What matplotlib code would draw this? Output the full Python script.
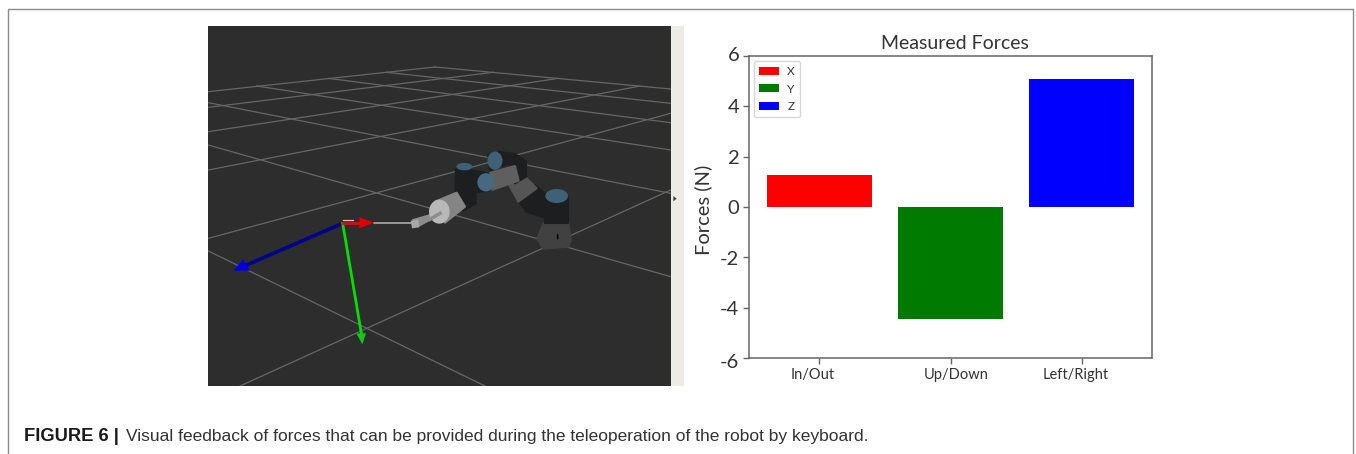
import matplotlib
matplotlib.use("Agg")
import matplotlib.pyplot as plt
from matplotlib.patches import Rectangle, Polygon, Ellipse
from matplotlib.transforms import ScaledTranslation

W, H = 1356, 454
categories = ["In/Out", "Up/Down", "Left/Right"]
forces = [1.28, -4.45, 5.08]
bar_colors = ["#ff0000", "#007a00", "#0000ff"]
legend_labels = ["X", "Y", "Z"]
yticks = [-6, -4, -2, 0, 2, 4, 6]
xlabel_shift_px = [-7, 5, -6]
ylabel_shift_px = [-3, 0, -1, 0, 0, 0, 2]

# Scene sketch, in crop coordinates of the reference
grid_a = [
    [(25, 230), (705, 156)],
    [(25, 277), (880, 172)],
    [(25, 350), (1075, 190)],
    [(25, 465), (1320, 213)],
    [(25, 670), (1412, 295)],
    [(120, 1113), (1412, 525)],
]
grid_b = [
    [(705, 156), (1412, 222)],
    [(560, 172), (1412, 265)],
    [(385, 190), (1412, 323)],
    [(170, 213), (1412, 405)],
    [(25, 263), (1412, 535)],
    [(25, 390), (1412, 785)],
    [(25, 708), (855, 1113)],
]
DARK, BLUE, BLUE2 = "#1d1e20", "#3f6177", "#47687f"
robot_polys = [
    ([(352, 295), (372, 248), (445, 248), (452, 300), (445, 320), (370, 326)], "#414141"),
    ([(375, 170), (445, 170), (445, 250), (375, 250)], DARK),
    ([(290, 175), (345, 135), (385, 170), (380, 235), (320, 215)], DARK),
    ([(262, 125), (310, 105), (350, 145), (295, 185)], "#555555"),
    ([(205, 45), (240, 36), (285, 42), (318, 65), (318, 110), (285, 130), (270, 70), (210, 90)], DARK),
    ([(205, 100), (285, 78), (296, 122), (215, 150)], "#5f5f5f"),
    ([(108, 85), (150, 90), (205, 100), (212, 150), (165, 158), (168, 190), (130, 212), (106, 170)], DARK),
    ([(45, 185), (110, 158), (135, 200), (75, 248)], "#858585"),
]
robot_ellipses = [
    ((410, 168, 68, 42), BLUE),
    ((225, 62, 45, 55), BLUE),
    ((198, 127, 52, 55), BLUE2),
    ((133, 80, 48, 22), BLUE),
    ((58, 215, 62, 72), "#b8b8b8"),
    ((413, 290, 5, 18), "#050505"),
]

plt.rcParams["font.family"] = ["Lato", "DejaVu Sans"]
fig = plt.figure(figsize=(W / 100, H / 100), dpi=100, facecolor="white")

def axes_px(l, t, r, b):
    return fig.add_axes([l / W, 1 - b / H, (r - l) / W, (b - t) / H])

bg = axes_px(0, 0, W, H)
bg.set_xlim(0, W)
bg.set_ylim(H, 0)
bg.axis("off")

def z2(p):
    return (200 + p[0] / 3, 15 + p[1] / 3)

def z5(p):
    return (420 + p[0] / 3, 140 + p[1] / 3)

def zm(p):
    return (200 + p[0] / 3, 100 + p[1] / 3)

# outer frame
bg.plot([8, 8, 1353, 1353], [454, 9, 9, 454], color="#8a8a8a", lw=1.0, solid_capstyle="butt")

# scene
bg.add_patch(Rectangle((670.5, 26), 13.5, 360, fc="#ecebe6", ec="none"))
scene = Rectangle((208, 26), 462.5, 360, fc="#2d2d2d", ec="none")
bg.add_patch(scene)
for seg in grid_a + grid_b:
    (x0, y0), (x1, y1) = z2(seg[0]), z2(seg[1])
    ln, = bg.plot([x0, x1], [y0, y1], color="#666666", lw=0.9, zorder=2)
    ln.set_clip_path(scene)

# gripper and line
bg.plot(*zip(zm((522, 368)), zm((632, 368))), color="#b5b5b5", lw=1.1, zorder=3)
bg.add_patch(Polygon([zm(p) for p in [(635, 358), (715, 335), (722, 345), (658, 380)]],
                     fc="#8c8c8c", ec="none", zorder=3))
bg.add_patch(Polygon([zm(p) for p in [(632, 362), (655, 358), (658, 382), (636, 385)]],
                     fc="#a8a8a8", ec="none", zorder=3))
for pts, c in robot_polys:
    bg.add_patch(Polygon([z5(p) for p in pts], fc=c, ec=c, lw=1.5, joinstyle="round", zorder=4))
for (cx, cy, w, h), c in robot_ellipses:
    x, y = z5((cx, cy))
    bg.add_patch(Ellipse((x, y), w / 3, h / 3, fc=c, ec="none", zorder=5))
bg.plot(*zip(zm((690, 358)), zm((720, 340))), color="#8c8c8c", lw=2.5, zorder=6)

# axes arrows
bg.plot(*zip(zm((428, 370)), zm((140, 495))), color="#00008c", lw=2.6, zorder=7)
bg.add_patch(Polygon([zm(p) for p in [(100, 512), (130, 478), (150, 512)]], fc="#0000dc", ec="none", zorder=8))
bg.plot(*zip(zm((428, 370)), zm((484, 700))), color="#00e000", lw=2.0, zorder=7)
bg.add_patch(Polygon([zm(p) for p in [(487, 733), (469, 700), (498, 700)]], fc="#16c816", ec="none", zorder=8))
bg.plot(*zip(zm((430, 368)), zm((480, 368))), color="#d01010", lw=2.0, zorder=7)
bg.add_patch(Polygon([zm(p) for p in [(522, 368), (478, 352), (478, 385)]], fc="#e00000", ec="none", zorder=8))
bg.plot(*zip(zm((430, 361)), zm((458, 361))), color="#c8c8c8", lw=0.9, zorder=9)
# side-panel grip
bg.add_patch(Polygon([zm(p) for p in [(1420, 288), (1430, 296), (1420, 304)]], fc="#444444", ec="none", zorder=9))

# caption
bg.text(24, 441, "FIGURE 6 |", family="Liberation Sans", weight="bold", fontsize=13.2,
        color="#1a1a1a", va="baseline", ha="left")
bg.text(126, 441, "Visual feedback of forces that can be provided during the teleoperation of the robot by keyboard.",
        family="Liberation Sans", fontsize=12.5, color="#333333", va="baseline", ha="left")

# bar chart
ax = axes_px(749, 56, 1152, 358)
x = list(range(len(categories)))
handles = ax.bar(x, forces, width=0.8, color=bar_colors)
ax.set_xlim(-0.537, 2.534)
ax.set_ylim(-6, 6)
ax.set_yticks(yticks)
ax.set_yticklabels([str(v) for v in yticks], fontsize=14.5, color="#333333")
ax.set_xticks(x)
ax.set_xticklabels(categories, fontsize=10.5, color="#333333")
ax.tick_params(axis="both", color="#666666", length=4, width=1)
ax.tick_params(axis="x", pad=3)
ax.tick_params(axis="y", pad=3)
for lab, s in zip(ax.get_xticklabels(), xlabel_shift_px):
    lab.set_transform(lab.get_transform() + ScaledTranslation(s / 100, 0, fig.dpi_scale_trans))
for lab, s in zip(ax.get_yticklabels(), ylabel_shift_px):
    lab.set_transform(lab.get_transform() + ScaledTranslation(0, s / 100, fig.dpi_scale_trans))
for s in ax.spines.values():
    s.set_color("#666666")
    s.set_linewidth(1.1)
ax.set_title("Measured Forces", fontsize=14, color="#333333", pad=5, x=0.51)
ax.set_ylabel("Forces (N)", fontsize=14.5, color="#333333", labelpad=6, y=0.49)
leg = ax.legend(handles.patches, legend_labels, loc="upper left", fontsize=8.5, frameon=True,
                borderaxespad=0.4, handlelength=1.7, handleheight=0.68, labelspacing=0.55, handletextpad=0.7,
                borderpad=0.45, labelcolor="#333333")

fig.savefig("out.png", dpi=100, facecolor="white")
